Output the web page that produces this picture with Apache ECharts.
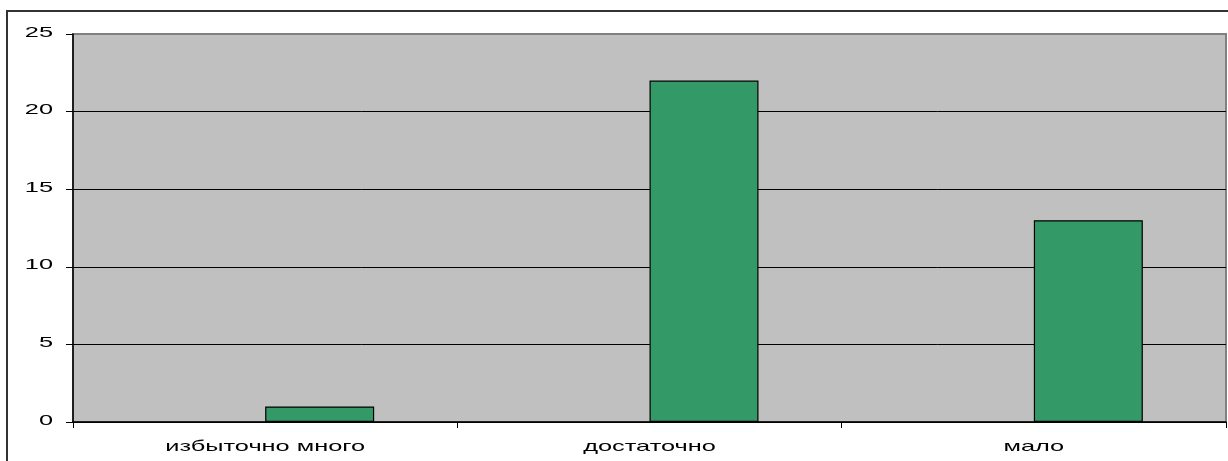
<!DOCTYPE html>
<html>
<head>
<meta charset="utf-8">
<script src="https://cdn.jsdelivr.net/npm/echarts@6/dist/echarts.min.js"></script>
<style>
html,body{margin:0;padding:0;background:#fff;}
#chart{width:1228px;height:461px;}
</style>
</head>
<body>
<div id="chart"></div>
<script>
const categories = ['избыточно много', 'достаточно', 'мало'];
const emptySeries = [null, null, null];
const values = [1, 22, 13];
const yTickLabels = [0, 5, 10, 15, 20, 25];

const FONT = 'Liberation Sans';
const FS = 15;
const STRETCH = 1.69;

const chart = echarts.init(document.getElementById('chart'), null, { renderer: 'canvas' });
chart.setOption({
  animation: false,
  backgroundColor: '#ffffff',
  grid: {
    left: 73, top: 34, right: 2, bottom: 39,
    show: true, backgroundColor: '#C0C0C0', borderColor: '#808080', borderWidth: 2
  },
  xAxis: {
    type: 'category',
    data: categories,
    boundaryGap: true,
    axisLine: { show: true, lineStyle: { color: '#000', width: 1.5 } },
    axisTick: { show: true, length: 6, lineStyle: { color: '#000' } },
    axisLabel: { show: false },
    splitLine: { show: false }
  },
  yAxis: {
    type: 'value',
    min: yTickLabels[0], max: yTickLabels[yTickLabels.length - 1], interval: yTickLabels[1] - yTickLabels[0],
    axisLine: { show: true, lineStyle: { color: '#000', width: 1.5 } },
    axisTick: { show: true, length: 7, lineStyle: { color: '#000' } },
    axisLabel: { show: false },
    splitLine: { show: true, lineStyle: { color: ['#000','#000','#000','#000','#000','#808080'], width: 1 } }
  },
  series: [
    { type: 'bar', data: emptySeries, barWidth: 109, barGap: '0%' },
    { type: 'bar', data: values, barWidth: 109, barGap: '0%',
      itemStyle: { color: '#339966', borderColor: '#000', borderWidth: 1.2 } }
  ]
});

// Axis labels drawn as real text, horizontally stretched like the reference, positioned by the chart's own scales
const graphics = [{
  type: 'rect', id: 'frame',
  shape: { x: 7, y: 11, width: 1240, height: 470 },
  style: { fill: 'none', stroke: '#333333', lineWidth: 2 },
  silent: true
}];
categories.forEach(function (c, i) {
  const px = chart.convertToPixel({ xAxisIndex: 0 }, c);
  const py = chart.convertToPixel({ yAxisIndex: 0 }, 0);
  graphics.push({
    type: 'text', id: 'xl' + i, x: px, y: py + 25, scaleX: STRETCH, silent: true,
    style: { text: c, fill: '#000', font: FS + 'px "' + FONT + '"', textAlign: 'center', textVerticalAlign: 'middle' }
  });
});
yTickLabels.forEach(function (v, i) {
  const py = chart.convertToPixel({ yAxisIndex: 0 }, v);
  graphics.push({
    type: 'text', id: 'yl' + i, x: 53, y: py - 1.5, scaleX: STRETCH, silent: true,
    style: { text: String(v), fill: '#000', font: FS + 'px "' + FONT + '"', textAlign: 'right', textVerticalAlign: 'middle' }
  });
});
chart.setOption({ graphic: graphics });
</script>
</body>
</html>
